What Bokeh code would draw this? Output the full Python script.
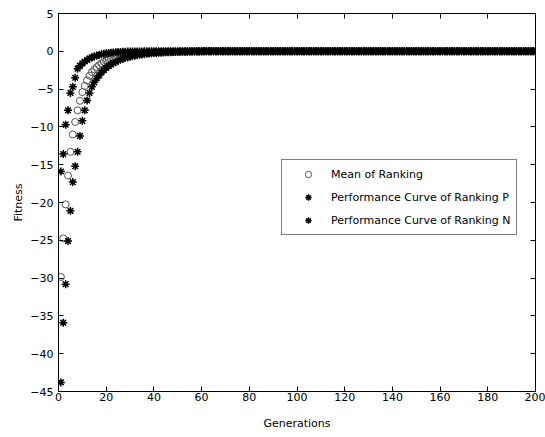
from bokeh.plotting import figure
from bokeh.models import (LinearAxis, Range1d, FixedTicker, Legend, LegendItem,
                          ColumnDataSource, CustomLabelingPolicy)
from bokeh.embed import file_html
from bokeh.resources import INLINE

# ---------------- data ----------------
generations = list(range(1, 201))

ranking_p = [
    -15.9, -13.6, -9.7, -7.8, -5.5, -4.7, -3.5, -2.3, -1.9, -1.6,
    -1.35, -1.15, -0.95, -0.8, -0.68, -0.57, -0.48, -0.4, -0.33, -0.27,
    -0.22, -0.18, -0.15, -0.12, -0.1, -0.08, -0.06, -0.05, -0.04, -0.03,
    -0.02, -0.02, -0.01, -0.01, -0.01,
] + [0.0] * 165

ranking_n = [
    -43.8, -35.9, -30.8, -25.1, -21.1, -17.3, -15.2, -13.3, -11.2, -9.2,
    -7.8, -6.5, -5.5, -4.7, -4.1, -3.6, -3.2, -2.8, -2.5, -2.2,
    -1.95, -1.75, -1.55, -1.4, -1.25, -1.1, -1.0, -0.9, -0.8, -0.72,
    -0.65, -0.58, -0.52, -0.47, -0.42, -0.38, -0.34, -0.3, -0.27, -0.24,
    -0.22, -0.2, -0.18, -0.16, -0.14, -0.12, -0.11, -0.1, -0.09, -0.08,
    -0.07, -0.06, -0.05, -0.05, -0.04, -0.03, -0.03, -0.02, -0.02, -0.01,
] + [0.0] * 140

ranking_mean = [
    -29.85, -24.75, -20.25, -16.45, -13.3, -11.0, -9.35, -7.8, -6.55, -5.4,
    -4.58, -3.83, -3.23, -2.75, -2.39, -2.09, -1.84, -1.6, -1.42, -1.24,
    -1.09, -0.97, -0.85, -0.76, -0.68, -0.59, -0.53, -0.48, -0.42, -0.38,
    -0.34, -0.3, -0.27, -0.24, -0.22, -0.19, -0.17, -0.15, -0.14, -0.12,
    -0.11, -0.1, -0.09, -0.08, -0.07, -0.06, -0.06, -0.05, -0.05, -0.04,
    -0.04, -0.03, -0.03, -0.03, -0.02, -0.02, -0.02, -0.01, -0.01, -0.01,
] + [0.0] * 140

x_ticks = [0, 20, 40, 60, 80, 100, 120, 140, 160, 180, 200]
y_ticks = [-45, -40, -35, -30, -25, -20, -15, -10, -5, 0, 5]

label_mean = "Mean of Ranking"
label_p = "Performance Curve of Ranking P"
label_n = "Performance Curve of Ranking N"

# ---------------- figure ----------------
FONT = "DejaVu Sans"
FS = "11px"

p = figure(width=545, height=437, output_backend="svg", toolbar_location=None,
           x_range=Range1d(0, 200), y_range=Range1d(-45, 5),
           min_border_left=58, min_border_right=10, min_border_top=13, min_border_bottom=46)
p.background_fill_color = "white"
p.border_fill_color = "white"
p.outline_line_color = "black"
p.xgrid.visible = False
p.ygrid.visible = False

def style_axis(ax, ticks, show_labels=True):
    ax.ticker = FixedTicker(ticks=ticks)
    ax.axis_line_color = "black"
    ax.major_tick_line_color = "black"
    ax.major_tick_in = 5
    ax.major_tick_out = 0
    ax.minor_tick_line_color = None
    ax.major_label_text_font = FONT
    ax.major_label_text_color = "black"
    ax.axis_label_text_font = FONT
    ax.axis_label_text_font_size = FS
    ax.axis_label_text_font_style = "normal"
    ax.axis_label_text_color = "black"
    if show_labels:
        ax.major_label_text_font_size = FS
    else:
        # mirror axis (MATLAB box): ticks only, no labels drawn
        ax.major_label_text_font_size = "2px"
        ax.major_label_standoff = 0
        ax.major_label_policy = CustomLabelingPolicy(code="return [];")

style_axis(p.xaxis[0], x_ticks)
style_axis(p.yaxis[0], y_ticks)
p.xaxis[0].axis_label = "Generations"
p.yaxis[0].axis_label = "Fitness"
p.xaxis[0].major_label_standoff = 1
p.yaxis[0].major_label_standoff = 5
p.xaxis[0].axis_label_standoff = 13
p.yaxis[0].axis_label_standoff = 2

top = LinearAxis()
right = LinearAxis()
style_axis(top, x_ticks, show_labels=False)
style_axis(right, y_ticks, show_labels=False)
p.add_layout(top, "above")
p.add_layout(right, "right")

src = ColumnDataSource(dict(x=generations, m=ranking_mean, pp=ranking_p, nn=ranking_n))

r_mean = p.scatter("x", "m", source=src, marker="circle", size=7,
                   fill_color=None, line_color="#555555", line_width=1)
r_p = p.scatter("x", "pp", source=src, marker="asterisk", size=8,
                line_color="black", line_width=1.5)
r_n = p.scatter("x", "nn", source=src, marker="asterisk", size=8,
                line_color="black", line_width=1.5)

legend = Legend(items=[
    LegendItem(label=label_mean, renderers=[r_mean]),
    LegendItem(label=label_p, renderers=[r_p]),
    LegendItem(label=label_n, renderers=[r_n]),
], location=(223, 156))
legend.label_text_font = FONT
legend.label_text_font_size = FS
legend.label_text_color = "black"
legend.label_height = 16
legend.glyph_height = 16
legend.glyph_width = 40
legend.label_standoff = 3
legend.spacing = 7
legend.padding = 6
legend.margin = 0
legend.border_line_color = "black"
legend.border_line_width = 1
legend.background_fill_color = "white"
legend.background_fill_alpha = 1
p.add_layout(legend, "center")

open("out.html", "w").write(file_html(p, INLINE))
